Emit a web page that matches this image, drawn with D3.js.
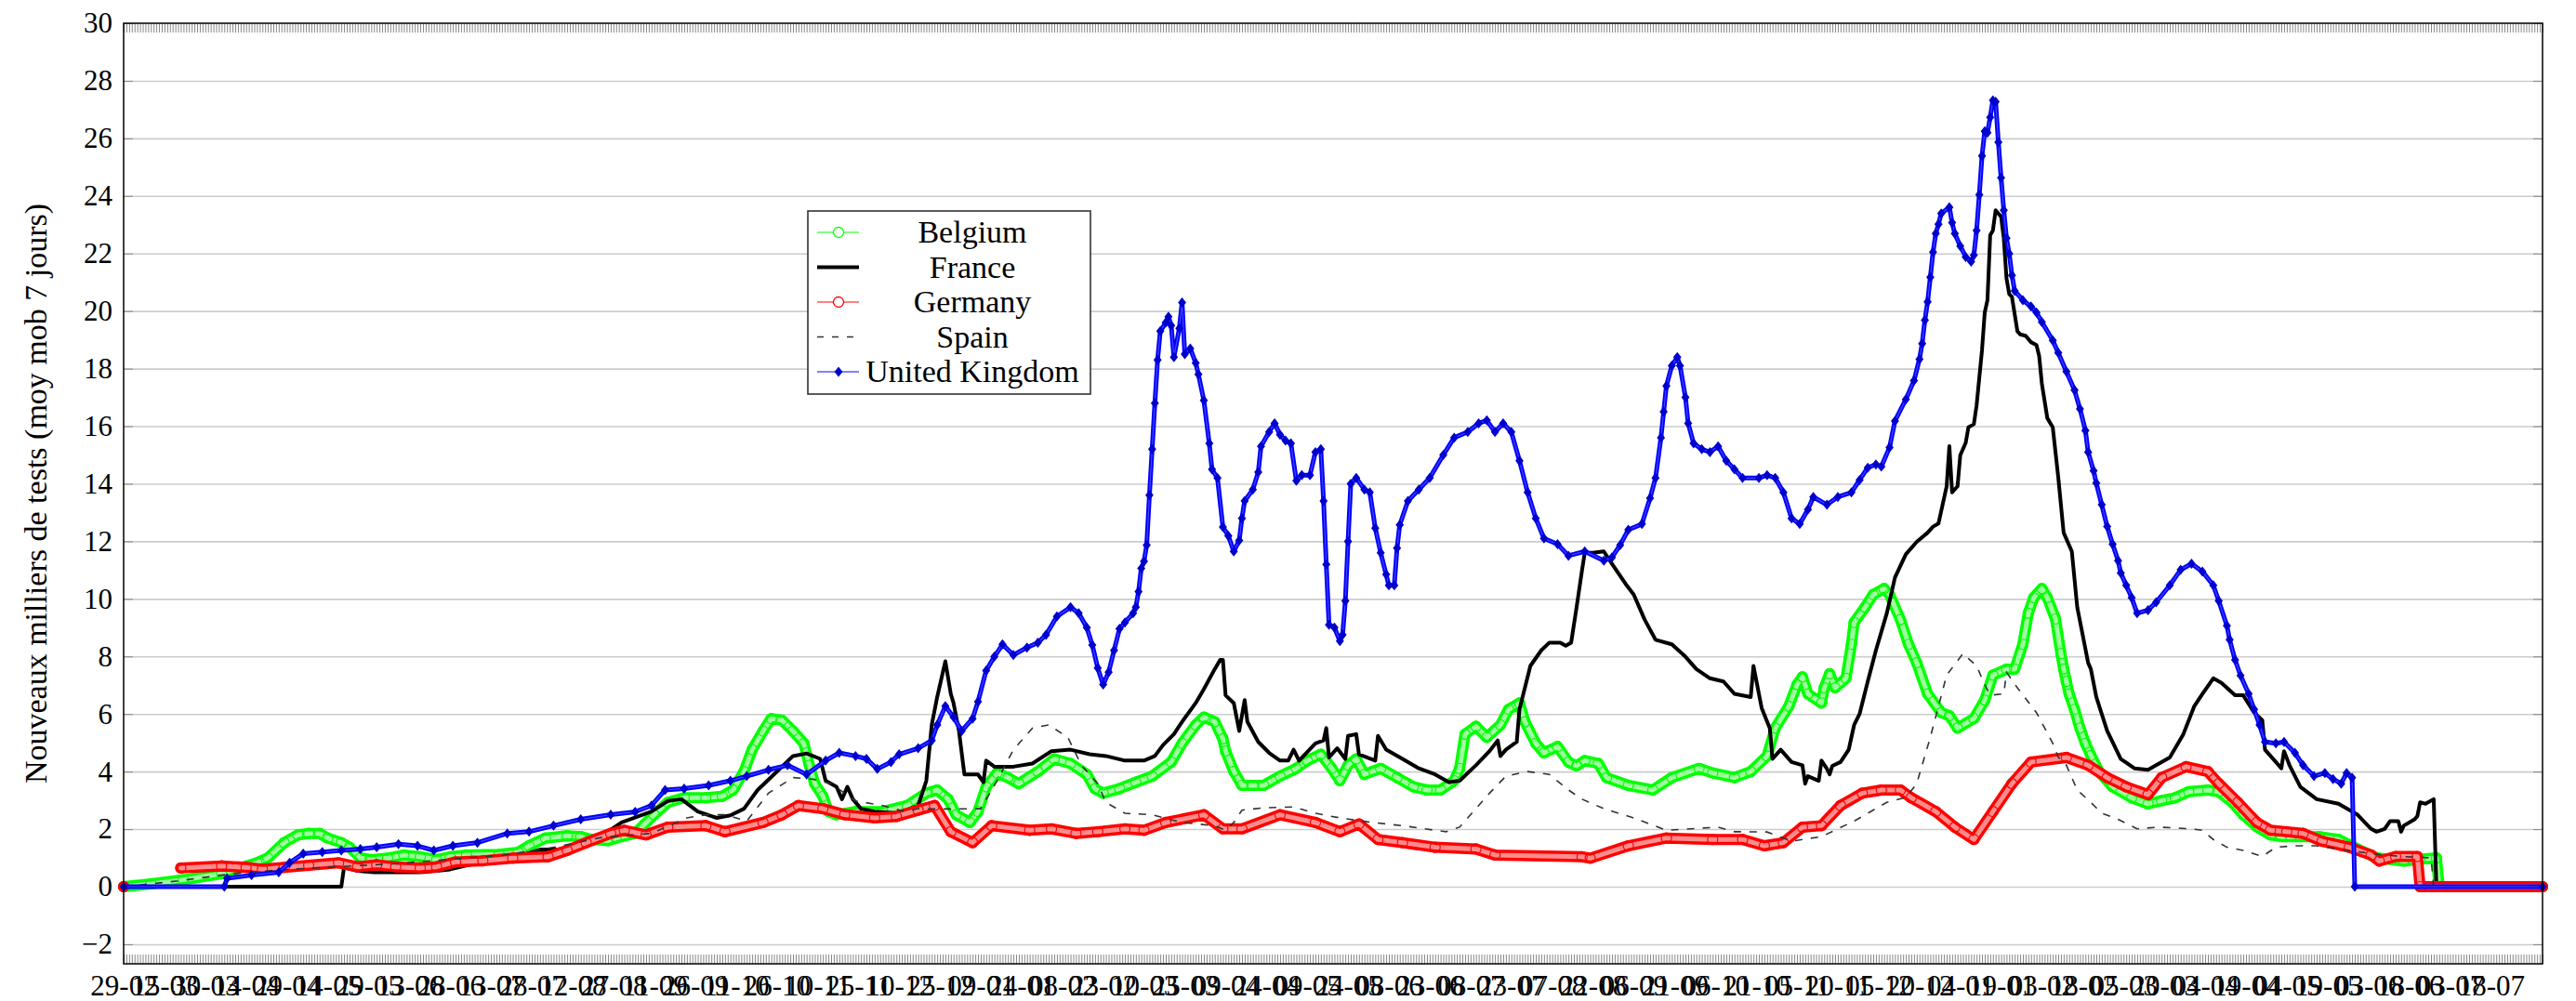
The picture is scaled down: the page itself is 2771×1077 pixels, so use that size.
<!DOCTYPE html>
<html>
<head>
<meta charset="utf-8">
<script src="https://cdn.jsdelivr.net/npm/d3@7"></script>
<style>
body { margin: 0; background: #fff; }
text { font-family: "Liberation Serif", "DejaVu Serif", serif; fill: #000; }
.grid line { stroke: #cccccc; stroke-width: 1.6; }
.grid path, .minor path, .labels path { display: none; }
.minor line { stroke: #888; stroke-width: 1; }
.labels text { font-size: 31px; }
.ylabels text { font-size: 31px; }
</style>
</head>
<body>
<div id="graph"></div>
<script>
// days are counted from the first date of the table (29-02-2020)
var lastDay = 889;
var tickDays = d3.range(0, 871, 15);
var tickLabels = ["29-02", "15-03", "30-03", "14-04", "29-04", "14-05", "29-05", "13-06", "28-06", "13-07",
    "28-07", "12-08", "27-08", "11-09", "26-09", "11-10", "26-10", "10-11", "25-11", "10-12",
    "25-12", "09-01", "24-01", "08-02", "23-02", "10-03", "25-03", "09-04", "24-04", "09-05",
    "24-05", "08-06", "23-06", "08-07", "23-07", "07-08", "22-08", "06-09", "21-09", "06-10",
    "21-10", "05-11", "20-11", "05-12", "20-12", "04-01", "19-01", "03-02", "18-02", "05-03",
    "20-03", "04-04", "19-04", "04-05", "19-05", "03-06", "18-06", "03-07", "18-07"];
var yTicks = d3.range(-2, 31, 2);

var countries = ["Belgium", "France", "Germany", "Spain", "United Kingdom"];

// [day, new tests in thousands, 7 day average]
var belgium = [[0,0],[10,0.1],[22,0.24],[36,0.45],[49,0.83],[53,1.0],[59,1.53],[64,1.8],[68,1.85],[72,1.85],[75,1.69],[80,1.53],[83,1.37],[87,1.0],[91,0.94],[97,0.99],[103,1.1],[109,1.04],[115,0.94],[120,1.04],[126,1.1],[138,1.12],[145,1.2],[149,1.42],[155,1.69],[163,1.77],[168,1.74],[172,1.64],[178,1.6],[181,1.69],[188,1.85],[195,2.5],[200,2.93],[206,3.09],[214,3.09],[220,3.14],[224,3.36],[228,4.0],[231,4.76],[235,5.41],[238,5.84],[242,5.78],[246,5.41],[250,4.98],[252,4.22],[254,3.58],[257,3.14],[259,2.61],[262,2.5],[269,2.61],[279,2.61],[288,2.82],[295,3.25],[299,3.36],[303,3.04],[306,2.5],[311,2.23],[314,2.61],[317,3.47],[321,3.95],[325,3.79],[329,3.58],[336,4.0],[342,4.44],[348,4.28],[354,3.9],[357,3.4],[360,3.25],[366,3.41],[372,3.63],[378,3.84],[385,4.33],[389,4.98],[394,5.62],[397,5.89],[401,5.73],[404,5.14],[405,4.71],[408,4.01],[411,3.52],[415,3.52],[419,3.52],[425,3.84],[431,4.11],[435,4.38],[440,4.6],[444,4.11],[447,3.68],[450,4.22],[453,4.44],[456,3.9],[462,4.11],[468,3.79],[474,3.47],[479,3.36],[484,3.36],[489,3.68],[491,4.11],[493,5.3],[497,5.57],[501,5.19],[506,5.62],[509,6.16],[513,6.38],[515,5.73],[519,4.98],[522,4.65],[527,4.87],[531,4.33],[534,4.2],[537,4.38],[542,4.28],[545,3.79],[553,3.52],[562,3.36],[569,3.79],[579,4.11],[584,3.95],[592,3.79],[598,4.0],[604,4.54],[607,5.51],[612,6.27],[615,7.02],[617,7.29],[619,6.7],[624,6.38],[625,6.91],[627,7.4],[629,6.91],[633,7.24],[635,8.42],[636,9.18],[640,9.71],[643,10.15],[647,10.36],[649,10.15],[653,9.28],[656,8.42],[659,7.78],[663,6.7],[668,6.05],[671,5.94],[674,5.51],[680,5.84],[684,6.48],[687,7.35],[692,7.56],[695,7.56],[698,8.42],[700,9.5],[702,10.04],[705,10.36],[707,10.04],[710,9.3],[712,8.1],[713,7.56],[714,7.13],[715,6.7],[717,6.16],[719,5.51],[721,4.98],[723,4.56],[726,4.0],[731,3.47],[738,3.09],[744,2.88],[749,2.99],[754,3.09],[759,3.3],[766,3.36],[770,3.3],[775,2.93],[779,2.5],[784,2.08],[789,1.8],[793,1.74],[800,1.74],[807,1.74],[814,1.64],[821,1.31],[828,1.0],[833,0.95],[838,0.89],[844,0.95],[850,1.0],[851,0],[889,0]];

var france = [[0,0],[80,0],[81,0.67],[86,0.55],[92,0.5],[100,0.5],[109,0.5],[115,0.55],[120,0.6],[132,0.88],[143,0.99],[153,1.29],[160,1.3],[172,1.5],[177,1.85],[183,2.23],[194,2.61],[200,2.98],[205,3.04],[211,2.61],[218,2.39],[223,2.48],[228,2.71],[233,3.36],[239,3.9],[246,4.54],[251,4.63],[256,4.44],[258,3.68],[262,3.47],[264,3.04],[266,3.47],[268,3.04],[271,2.71],[276,2.61],[285,2.55],[292,2.82],[295,3.68],[297,5.62],[299,6.59],[302,7.83],[304,6.7],[305,6.38],[307,5.41],[309,3.9],[314,3.9],[316,3.63],[317,4.38],[320,4.17],[327,4.17],[334,4.28],[341,4.71],[348,4.76],[355,4.6],[361,4.54],[368,4.38],[375,4.38],[379,4.54],[382,4.92],[386,5.3],[389,5.73],[394,6.38],[397,6.86],[401,7.56],[403,7.88],[404,7.88],[405,6.65],[408,6.38],[410,5.41],[412,6.48],[413,5.73],[417,5.03],[421,4.65],[425,4.38],[428,4.38],[430,4.76],[432,4.38],[438,4.98],[441,5.08],[442,5.51],[443,4.49],[446,4.81],[449,4.44],[450,5.24],[453,5.3],[454,4.6],[460,4.38],[461,5.24],[464,4.76],[470,4.44],[476,4.11],[482,3.9],[487,3.63],[491,3.68],[497,4.22],[502,4.71],[505,5.08],[506,4.54],[508,4.76],[512,5.03],[513,6.16],[515,6.91],[517,7.67],[521,8.21],[524,8.48],[528,8.48],[530,8.37],[532,8.48],[534,9.71],[536,11.0],[537,11.6],[540,11.6],[544,11.65],[547,11.22],[552,10.52],[555,10.15],[559,9.28],[563,8.58],[569,8.42],[574,7.99],[578,7.56],[583,7.24],[588,7.13],[592,6.7],[598,6.59],[599,7.67],[602,6.21],[605,5.51],[606,4.44],[609,4.76],[613,4.33],[617,4.22],[618,3.58],[619,3.84],[623,3.68],[624,4.38],[626,4.1],[627,3.9],[628,4.2],[631,4.33],[634,4.76],[636,5.62],[638,6.0],[641,7.13],[644,8.21],[648,9.5],[651,10.74],[655,11.55],[659,11.98],[663,12.3],[665,12.51],[667,12.62],[668,13.05],[670,13.91],[671,15.31],[672,13.7],[674,13.91],[675,14.99],[677,15.42],[678,15.96],[680,16.07],[681,16.72],[683,18.65],[684,19.95],[685,20.38],[686,22.64],[687,22.8],[688,23.5],[690,23.28],[691,22.53],[692,21.13],[693,20.59],[694,20.49],[696,19.3],[697,19.19],[699,19.14],[701,18.92],[703,18.82],[704,18.44],[705,17.47],[707,16.28],[709,15.96],[711,14.24],[713,12.3],[716,11.65],[718,9.71],[722,7.78],[723,7.56],[725,6.59],[729,5.41],[734,4.44],[739,4.11],[744,4.06],[747,4.22],[752,4.49],[757,5.3],[761,6.27],[764,6.7],[768,7.24],[771,7.08],[776,6.65],[779,6.65],[783,6.05],[786,5.78],[787,4.76],[791,4.33],[793,4.11],[794,4.71],[796,4.22],[800,3.47],[806,3.04],[814,2.88],[821,2.5],[826,2.01],[828,1.91],[831,2.01],[833,2.28],[836,2.28],[837,1.91],[838,2.12],[842,2.34],[843,2.45],[844,2.93],[846,2.88],[849,3.04],[850,0],[889,0]];

var germany = [[0,0],[1,null],[21,0.65],[36,0.72],[45,0.67],[51,0.61],[59,0.67],[68,0.74],[79,0.83],[86,0.69],[93,0.76],[100,0.69],[109,0.65],[115,0.69],[122,0.86],[132,0.9],[143,0.99],[156,1.04],[163,1.26],[170,1.53],[179,1.85],[184,1.96],[192,1.8],[200,2.07],[214,2.12],[221,1.91],[235,2.23],[242,2.5],[248,2.82],[257,2.71],[265,2.5],[276,2.39],[284,2.44],[292,2.66],[298,2.82],[304,1.91],[312,1.53],[319,2.12],[333,1.96],[341,2.01],[350,1.85],[358,1.91],[368,2.01],[375,1.96],[383,2.23],[397,2.5],[404,2.01],[411,2.01],[425,2.5],[438,2.23],[447,1.91],[454,2.18],[461,1.64],[470,1.53],[482,1.37],[497,1.31],[504,1.1],[536,1.04],[539,0.99],[553,1.42],[567,1.69],[584,1.64],[595,1.64],[603,1.42],[610,1.53],[617,2.07],[624,2.12],[631,2.82],[639,3.25],[646,3.36],[653,3.36],[657,3.09],[666,2.61],[673,2.07],[680,1.64],[687,2.61],[694,3.58],[701,4.33],[714,4.49],[722,4.22],[729,3.79],[736,3.47],[744,3.2],[749,3.79],[758,4.17],[766,4.0],[770,3.58],[777,2.93],[784,2.23],[789,1.96],[795,1.91],[801,1.85],[808,1.58],[818,1.37],[826,1.1],[829,0.89],[835,1.05],[843,1.05],[844,0],[889,0]];

var spain = [[0,0],[20,0.2],[40,0.45],[60,0.6],[80,0.7],[100,0.8],[120,0.95],[140,1.1],[160,1.4],[175,1.7],[194,1.85],[207,2.39],[214,2.5],[221,2.5],[229,2.28],[237,3.25],[246,3.79],[253,3.74],[260,3.58],[269,2.98],[279,2.82],[287,2.61],[292,2.71],[304,2.7],[315,2.71],[321,3.68],[327,4.76],[334,5.51],[340,5.62],[347,5.19],[352,4.22],[358,3.58],[361,2.93],[368,2.55],[378,2.5],[389,2.23],[401,2.12],[405,1.96],[408,2.23],[411,2.66],[419,2.74],[430,2.77],[438,2.55],[447,2.39],[459,2.23],[470,2.12],[482,1.96],[486,1.91],[491,2.07],[496,2.61],[502,3.25],[508,3.84],[516,4.0],[524,3.9],[531,3.36],[536,3.04],[544,2.71],[555,2.39],[567,1.96],[586,2.07],[592,1.91],[604,1.9],[613,1.58],[624,1.74],[636,2.28],[648,2.93],[655,3.1],[659,3.58],[664,5.19],[670,7.35],[676,8.1],[681,7.67],[684,7.02],[686,6.65],[691,6.7],[692,7.45],[696,6.91],[703,6.05],[709,4.98],[711,4.5],[714,4.22],[718,3.36],[723,2.93],[727,2.55],[733,2.34],[740,2.01],[748,2.07],[760,2.01],[764,1.96],[768,1.64],[773,1.37],[779,1.26],[786,1.05],[791,1.37],[798,1.42],[806,1.42],[814,1.31],[826,1.15],[837,1.05],[848,1.0],[849,0],[889,0]];

var uk = [[0,0],[37,0],[38,0.29],[47,0.4],[57,0.5],[61,0.83],[66,1.15],[73,1.2],[80,1.26],[87,1.31],[93,1.37],[101,1.48],[108,1.42],[114,1.26],[121,1.42],[130,1.53],[141,1.85],[149,1.91],[158,2.12],[168,2.34],[179,2.5],[188,2.6],[194,2.82],[199,3.36],[206,3.41],[215,3.52],[223,3.68],[229,3.84],[237,4.06],[244,4.22],[251,3.9],[258,4.38],[263,4.65],[269,4.54],[273,4.44],[277,4.09],[282,4.33],[285,4.6],[292,4.81],[297,5.08],[299,5.62],[302,6.27],[305,5.89],[308,5.41],[312,5.84],[314,6.43],[317,7.51],[320,7.99],[323,8.42],[327,8.05],[332,8.31],[336,8.48],[339,8.75],[343,9.39],[348,9.71],[351,9.5],[354,9.0],[356,8.4],[358,7.6],[360,7.02],[362,7.45],[364,8.21],[366,8.96],[368,9.18],[371,9.5],[372,9.71],[373,10.25],[374,11.06],[375,11.3],[376,11.87],[377,13.6],[378,15.2],[379,16.8],[380,18.3],[381,19.3],[383,19.6],[384,19.8],[385,19.5],[386,18.4],[388,19.4],[389,20.3],[390,18.5],[392,18.7],[394,18.2],[395,17.8],[397,16.9],[399,15.4],[400,14.5],[402,14.2],[404,12.5],[406,12.19],[408,11.65],[410,12.03],[411,12.8],[412,13.4],[415,13.8],[417,14.4],[418,15.3],[421,15.8],[423,16.1],[425,15.7],[427,15.5],[429,15.4],[431,14.1],[433,14.3],[436,14.3],[438,15.1],[440,15.2],[441,13.4],[442,11.2],[443,9.1],[445,9.0],[447,8.53],[448,8.75],[449,9.93],[450,12.0],[451,14.0],[453,14.2],[456,13.8],[458,13.7],[460,12.46],[462,11.6],[464,10.85],[465,10.47],[467,10.47],[468,11.76],[469,12.57],[472,13.4],[476,13.8],[480,14.2],[485,15.0],[489,15.6],[494,15.8],[498,16.1],[501,16.2],[504,15.8],[507,16.1],[510,15.8],[513,14.8],[516,13.7],[519,12.8],[522,12.1],[527,11.9],[531,11.5],[537,11.65],[544,11.33],[547,11.44],[550,11.87],[553,12.4],[558,12.6],[561,13.5],[563,14.2],[565,15.6],[566,16.5],[567,17.4],[569,18.1],[571,18.4],[572,18.1],[574,17.0],[575,16.1],[577,15.4],[580,15.2],[583,15.1],[586,15.3],[589,14.8],[592,14.5],[595,14.2],[601,14.2],[604,14.3],[607,14.2],[610,13.7],[613,12.8],[616,12.6],[619,13.1],[621,13.54],[626,13.27],[630,13.54],[635,13.7],[638,14.13],[641,14.56],[644,14.67],[646,14.6],[649,15.26],[651,16.18],[655,16.93],[658,17.58],[660,18.33],[661,18.87],[662,19.68],[663,20.32],[664,21.18],[665,22.05],[666,22.69],[667,23.02],[668,23.39],[671,23.61],[672,23.07],[673,22.69],[675,22.26],[677,21.88],[679,21.72],[680,21.94],[681,22.8],[682,24.04],[683,25.39],[684,26.25],[685,26.2],[686,26.73],[687,27.32],[688,27.27],[689,25.87],[690,24.63],[691,23.5],[692,22.53],[693,21.99],[694,21.24],[695,20.7],[698,20.38],[701,20.16],[703,19.95],[705,19.62],[709,18.98],[711,18.55],[714,17.9],[717,17.25],[719,16.6],[721,15.85],[722,15.1],[724,14.45],[725,14.02],[727,13.27],[729,12.51],[731,11.9],[733,11.33],[734,10.9],[736,10.47],[738,10.04],[740,9.5],[744,9.61],[747,9.88],[752,10.47],[756,11.01],[760,11.22],[764,10.95],[768,10.47],[770,9.93],[773,9.07],[774,8.58],[776,7.88],[778,7.34],[781,6.7],[783,6.16],[785,5.62],[787,5.03],[791,4.98],[794,5.03],[798,4.65],[801,4.22],[805,3.84],[809,3.95],[812,3.74],[815,3.58],[817,3.95],[819,3.79],[820,0],[889,0]];

// set the dimensions and margins of the graph
var margin = { top: 25, right: 36, bottom: 40, left: 133 },
    width = 2771 - margin.left - margin.right,
    height = 1077 - margin.top - margin.bottom;

var root = d3.select("#graph")
    .append("svg")
    .attr("width", 2771)
    .attr("height", 1077);

var svg = root.append("g")
    .attr("transform", "translate(" + margin.left + "," + margin.top + ")");

var x = d3.scaleLinear().domain([0, lastDay]).range([0, width]);
var y = d3.scaleLinear().domain([-2.68, 30]).range([height, 0]);

// Y grid
svg.append("g")
    .attr("class", "grid")
    .call(d3.axisLeft(y)
        .tickValues(yTicks.slice(0, -1))
        .tickSize(-width)
        .tickFormat("")
    );

// small ticks inside the frame
svg.append("g").attr("class", "minor")
    .call(d3.axisLeft(y).tickValues(yTicks).tickSize(-10).tickFormat(""));
svg.append("g").attr("class", "minor")
    .attr("transform", "translate(" + width + ",0)")
    .call(d3.axisRight(y).tickValues(yTicks).tickSize(-10).tickFormat(""));
svg.append("g").attr("class", "minor")
    .call(d3.axisTop(x).tickValues(d3.range(0, lastDay + 1)).tickSize(-10).tickFormat(""));
svg.append("g").attr("class", "minor")
    .attr("transform", "translate(0," + height + ")")
    .call(d3.axisBottom(x).tickValues(d3.range(0, lastDay + 1)).tickSize(-10).tickFormat(""));

// tick labels
svg.append("g")
    .attr("class", "labels")
    .attr("transform", "translate(0," + height + ")")
    .call(d3.axisBottom(x)
        .tickValues(tickDays)
        .tickSize(0)
        .tickPadding(12)
        .tickFormat(function (d, i) { return tickLabels[i]; })
    );

svg.append("g")
    .attr("class", "labels ylabels")
    .call(d3.axisLeft(y)
        .tickValues(yTicks)
        .tickSize(0)
        .tickPadding(12)
        .tickFormat(function (d) { return d < 0 ? "\u2212" + (-d) : d; })
    );

var line = d3.line()
    .defined(function (d) { return d[1] != null; })
    .x(function (d) { return x(d[0]); })
    .y(function (d) { return y(d[1]); });

function diamond(r) {
    return "M0," + (-r) + "L" + (r * 0.8) + ",0L0," + r + "L" + (-r * 0.8) + ",0Z";
}

function ringSeries(data, color, light) {
    var g = svg.append("g");
    g.append("path").datum(data)
        .attr("fill", "none").attr("stroke", color)
        .attr("stroke-width", 12).attr("stroke-linejoin", "round").attr("stroke-linecap", "round")
        .attr("d", line);
    g.append("path").datum(data)
        .attr("fill", "none").attr("stroke", light)
        .attr("stroke-width", 5).attr("stroke-linejoin", "round").attr("stroke-linecap", "round")
        .attr("d", line);
    g.selectAll("circle")
        .data(data.filter(function (d) { return d[1] != null; }))
        .enter().append("circle")
        .attr("cx", function (d) { return x(d[0]); })
        .attr("cy", function (d) { return y(d[1]); })
        .attr("r", 5.5)
        .attr("fill", "none")
        .attr("stroke", color)
        .attr("stroke-width", 1.2);
}

// Belgium
ringSeries(belgium, "#00ff00", "#9dff9d");

// France
svg.append("path").datum(france)
    .attr("fill", "none").attr("stroke", "#000")
    .attr("stroke-width", 4).attr("stroke-linejoin", "round")
    .attr("d", line);

// Germany
ringSeries(germany, "#ff0000", "#ff8c8c");

// Spain
svg.append("path").datum(spain)
    .attr("fill", "none").attr("stroke", "#333")
    .attr("stroke-width", 1.6).attr("stroke-dasharray", "8,9")
    .attr("d", line);

// United Kingdom
svg.append("path").datum(uk)
    .attr("fill", "none").attr("stroke", "#0000ff")
    .attr("stroke-width", 5).attr("stroke-linejoin", "round")
    .attr("d", line);
svg.append("path").datum(uk)
    .attr("fill", "none").attr("stroke", "#4444ff")
    .attr("stroke-width", 1.2)
    .attr("d", line);
svg.append("g").selectAll("path")
    .data(uk)
    .enter().append("path")
    .attr("transform", function (d) { return "translate(" + x(d[0]) + "," + y(d[1]) + ")"; })
    .attr("d", diamond(5.5))
    .attr("fill", "#0000cc");

// frame
svg.append("rect")
    .attr("width", width).attr("height", height)
    .attr("fill", "none").attr("stroke", "#000").attr("stroke-width", 1.5);

// Y label
root.append("text")
    .attr("transform", "translate(50," + (margin.top + height / 2) + ") rotate(-90)")
    .attr("text-anchor", "middle")
    .style("font-size", "34px")
    .text("Nouveaux milliers de tests (moy mob 7 jours)");

// legend
var legend = root.append("g").attr("transform", "translate(869,227)");
legend.append("rect")
    .attr("width", 304).attr("height", 197)
    .attr("fill", "#fff").attr("stroke", "#333").attr("stroke-width", 1.6);

var rows = legend.selectAll("g.row")
    .data(countries)
    .enter().append("g")
    .attr("class", "row")
    .attr("transform", function (d, i) { return "translate(0," + (23 + i * 37.5) + ")"; });

rows.append("text")
    .attr("x", 177).attr("y", 11)
    .attr("text-anchor", "middle")
    .style("font-size", "34px")
    .text(function (d) { return d; });

var styles = [
    { color: "#00ff00", width: 1, dash: null, marker: "circle" },
    { color: "#000", width: 4, dash: null, marker: null },
    { color: "#ff0000", width: 1, dash: null, marker: "circle" },
    { color: "#333", width: 1.6, dash: "7,9", marker: null },
    { color: "#0000ff", width: 1, dash: null, marker: "diamond" }
];

rows.each(function (d, i) {
    var s = styles[i], r = d3.select(this);
    r.append("line")
        .attr("x1", 10).attr("x2", 55).attr("y1", 0).attr("y2", 0)
        .attr("stroke", s.color).attr("stroke-width", s.width)
        .attr("stroke-dasharray", s.dash);
    if (s.marker == "circle") {
        r.append("circle").attr("cx", 33).attr("cy", 0).attr("r", 5.5)
            .attr("fill", "#fff").attr("stroke", s.color).attr("stroke-width", 1.3);
    } else if (s.marker == "diamond") {
        r.append("path").attr("transform", "translate(33,0)")
            .attr("d", diamond(5.5)).attr("fill", "#0000cc");
    }
});
</script>
</body>
</html>
